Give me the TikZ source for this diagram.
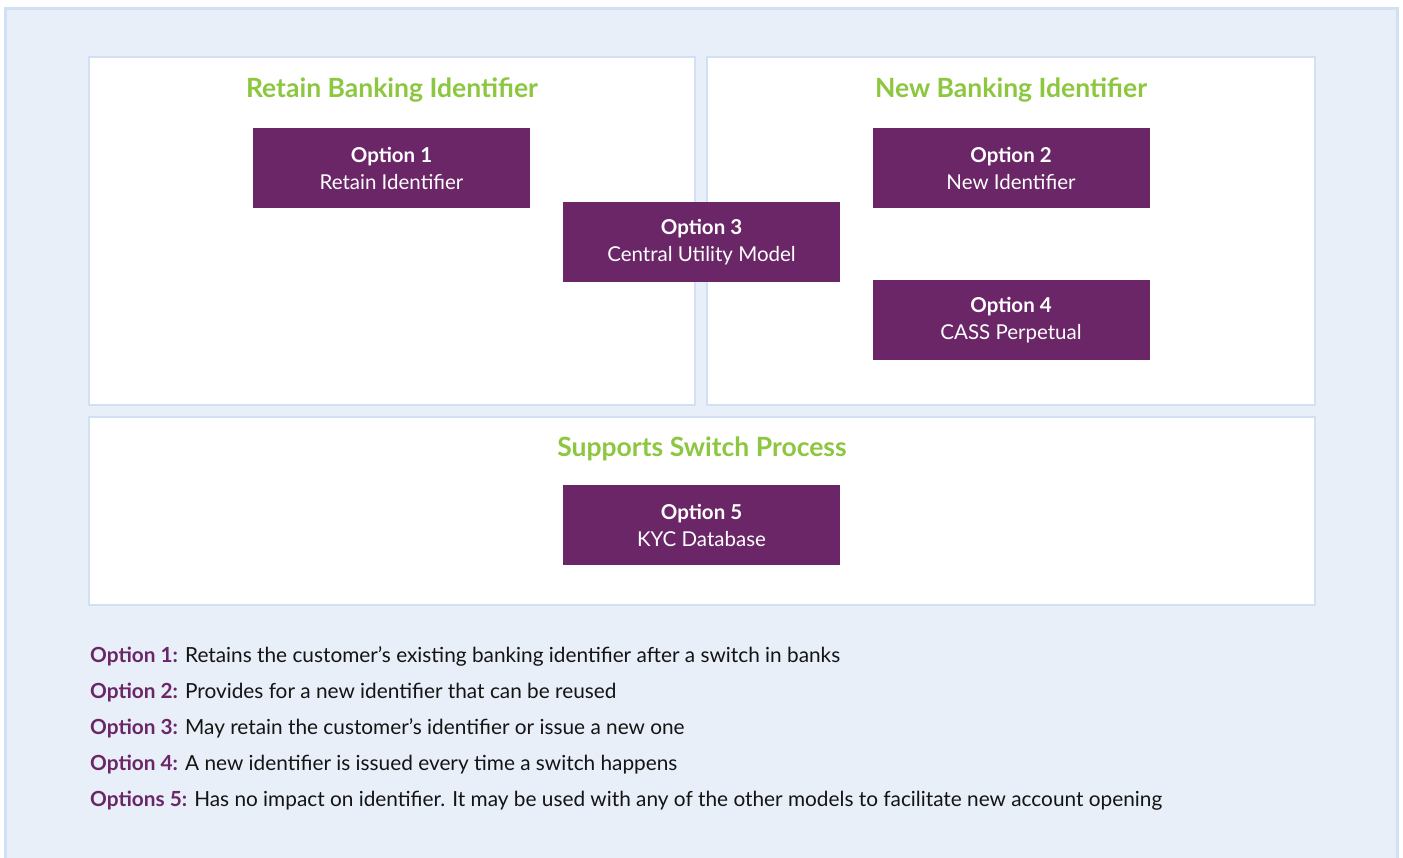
\documentclass[tikz,border=0pt]{standalone}
\usepackage{fontspec}
\setmainfont{Lato}
\usepackage{tikz}
\usetikzlibrary{positioning}
\definecolor{fond}{HTML}{E8EFF9}
\definecolor{bord}{HTML}{D2E0F3}
\definecolor{prune}{HTML}{6B2667}
\definecolor{vert}{HTML}{8DC63F}
\definecolor{encre}{HTML}{141414}
\tikzset{
  panel/.style={draw=bord,line width=2pt,fill=white,inner sep=0pt},
  optbox/.style={fill=prune,text=white,align=center,inner sep=0pt,
                 minimum width=277pt,minimum height=80pt,
                 font=\fontsize{20.5}{27}\selectfont},
  heading/.style={text=vert,anchor=base,inner sep=0pt,
                  font=\fontsize{26.5}{30}\selectfont\bfseries},
  legende/.style={text=encre,anchor=base west,inner sep=0pt,
                  font=\fontsize{20.8}{24}\selectfont},
}
\newcommand{\opt}[1]{\textcolor{prune}{\bfseries #1}}

\begin{document}
\begin{tikzpicture}[x=1pt,y=-1pt]
  \useasboundingbox (0,0) rectangle (1403,857);
  % background
  \draw[draw=bord,line width=3pt,fill=fond] (5.5,8.5) rectangle (1397.5,870);
  % panels
  \node[panel,minimum width=606pt,minimum height=348pt] (gauche) at (392,231) {};
  \node[panel,minimum width=608pt,minimum height=348pt] (droite) at (1011,231) {};
  \node[panel,minimum width=1226pt,minimum height=188pt] (bas) at (702,511) {};
  % headings
  \node[heading] (tg) at (392,97) {Retain Banking Identifier};
  \node[heading] (td) at (1011,97) {New Banking Identifier};
  \node[heading] (tb) at (702,456) {Supports Switch Process};
  % options
  \node[optbox] (o1) at (391.5,168) {\textbf{Option 1}\\Retain Identifier};
  \node[optbox] (o2) at (1011,168) {\textbf{Option 2}\\New Identifier};
  \node[optbox] (o3) at (701.5,242) {\textbf{Option 3}\\Central Utility Model};
  \node[optbox] (o4) at (1011,320) {\textbf{Option 4}\\CASS Perpetual};
  \node[optbox] (o5) at (701.5,525) {\textbf{Option 5}\\KYC Database};
  % legend
  \node[legende] (l1) at (90,662) {\opt{Option 1:} Retains the customer’s existing banking identifier after a switch in banks};
  \node[legende] (l2) at (90,698) {\opt{Option 2:} Provides for a new identifier that can be reused};
  \node[legende] (l3) at (90,734) {\opt{Option 3:} May retain the customer’s identifier or issue a new one};
  \node[legende] (l4) at (90,770) {\opt{Option 4:} A new identifier is issued every time a switch happens};
  \node[legende] (l5) at (90,806) {\opt{Options 5:} Has no impact on identifier. It may be used with any of the other models to facilitate new account opening};
\end{tikzpicture}
\end{document}
